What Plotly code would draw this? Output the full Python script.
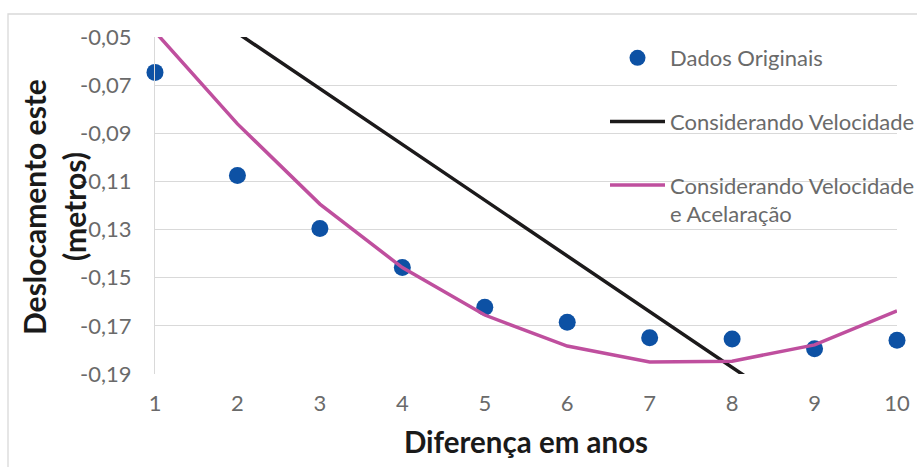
import plotly.graph_objects as go

# Years since the reference epoch
anos = [1, 2, 3, 4, 5, 6, 7, 8, 9, 10]

# Observed east displacement (m)
dados_originais = [-0.0647, -0.1075, -0.1296, -0.1458, -0.1623,
                   -0.1685, -0.1749, -0.1755, -0.1795, -0.1760]

# Model with constant velocity only (m)
modelo_velocidade = [-0.0252, -0.0484, -0.0715, -0.0946, -0.1178,
                     -0.1409, -0.1641, -0.1872, -0.2104, -0.2335]

# Model with velocity and acceleration (m)
modelo_vel_acel = [-0.0478, -0.0861, -0.1194, -0.1458, -0.1655,
                   -0.1784, -0.1850, -0.1847, -0.1779, -0.1638]

y_ticks = [-0.05, -0.07, -0.09, -0.11, -0.13, -0.15, -0.17, -0.19]
y_tick_labels = ["-0,05", "-0,07", "-0,09", "-0,11", "-0,13", "-0,15", "-0,17", "-0,19"]
x_ticks = anos
x_tick_labels = [str(a) for a in anos]
y_title_lines = ["Deslocamento este", "(metros)"]

FONT = "Lato"
GRAY_TXT = "#6a6a6a"
TITLE_TXT = "#1a1a1a"
GRID = "#d9d9d9"

# plot-area geometry in pixels (used to place the frame and the title lines)
L, R, T, B = 155, 897, 37, 374
W, H = R - L, B - T


def px_x(p):
    return (p - L) / W


def px_y(p):
    return (B - p) / H


fig = go.Figure()

fig.add_trace(go.Scatter(
    x=anos, y=dados_originais, mode="markers", name="Dados Originais",
    marker=dict(color="#0d51a4", size=17), cliponaxis=False,
    legendgroup="a",
))
fig.add_trace(go.Scatter(
    x=anos, y=modelo_velocidade, mode="lines", name="Considerando Velocidade",
    line=dict(color="#1c1a1b", width=3.5),
    legendgroup="b",
))
fig.add_trace(go.Scatter(
    x=anos, y=modelo_vel_acel, mode="lines",
    name="Considerando Velocidade<br>e Acelaração",
    line=dict(color="#bf4f9e", width=3.5),
    legendgroup="c",
))

# light outer frame of the chart
fig.add_shape(type="rect", xref="paper", yref="paper",
              x0=px_x(8), x1=px_x(930), y0=px_y(480), y1=px_y(14),
              line=dict(color=GRID, width=1.3), fillcolor="rgba(0,0,0,0)",
              layer="below")

# two-line vertical axis title
for text, cx in zip(y_title_lines, [34, 74]):
    fig.add_annotation(
        text=f"<b>{text}</b>", xref="paper", yref="paper",
        x=px_x(cx), y=px_y(207), xanchor="center", yanchor="middle",
        textangle=-90, showarrow=False,
        font=dict(family=FONT, size=30, color=TITLE_TXT),
    )

fig.update_layout(
    width=917, height=467,
    margin=dict(l=L, r=917 - R, t=T, b=467 - B, autoexpand=False),
    paper_bgcolor="white", plot_bgcolor="white",
    font=dict(family=FONT, color=GRAY_TXT),
    showlegend=True,
    legend=dict(
        x=px_x(605), y=px_y(37), xanchor="left", yanchor="top",
        bgcolor="rgba(0,0,0,0)", font=dict(family=FONT, size=22, color=GRAY_TXT),
        itemwidth=55, tracegroupgap=32, valign="top",
    ),
    xaxis=dict(
        range=[1, 10], tickvals=x_ticks, ticktext=x_tick_labels,
        showgrid=False, zeroline=False, showline=False, automargin=False,
        tickfont=dict(size=22, color=GRAY_TXT), ticks="", ticklabelstandoff=14,
        title=dict(text="<b>Diferença em anos</b>",
                   font=dict(family=FONT, size=29.5, color=TITLE_TXT), standoff=17),
    ),
    yaxis=dict(
        range=[-0.19, -0.05], tickvals=y_ticks, ticktext=y_tick_labels,
        showgrid=True, gridcolor=GRID, gridwidth=1.3, zeroline=False,
        showline=True, linecolor=GRID, linewidth=1.3, automargin=False,
        tickfont=dict(size=22, color=GRAY_TXT), ticks="", ticklabelstandoff=18,
    ),
)

fig.write_html("out.html")
